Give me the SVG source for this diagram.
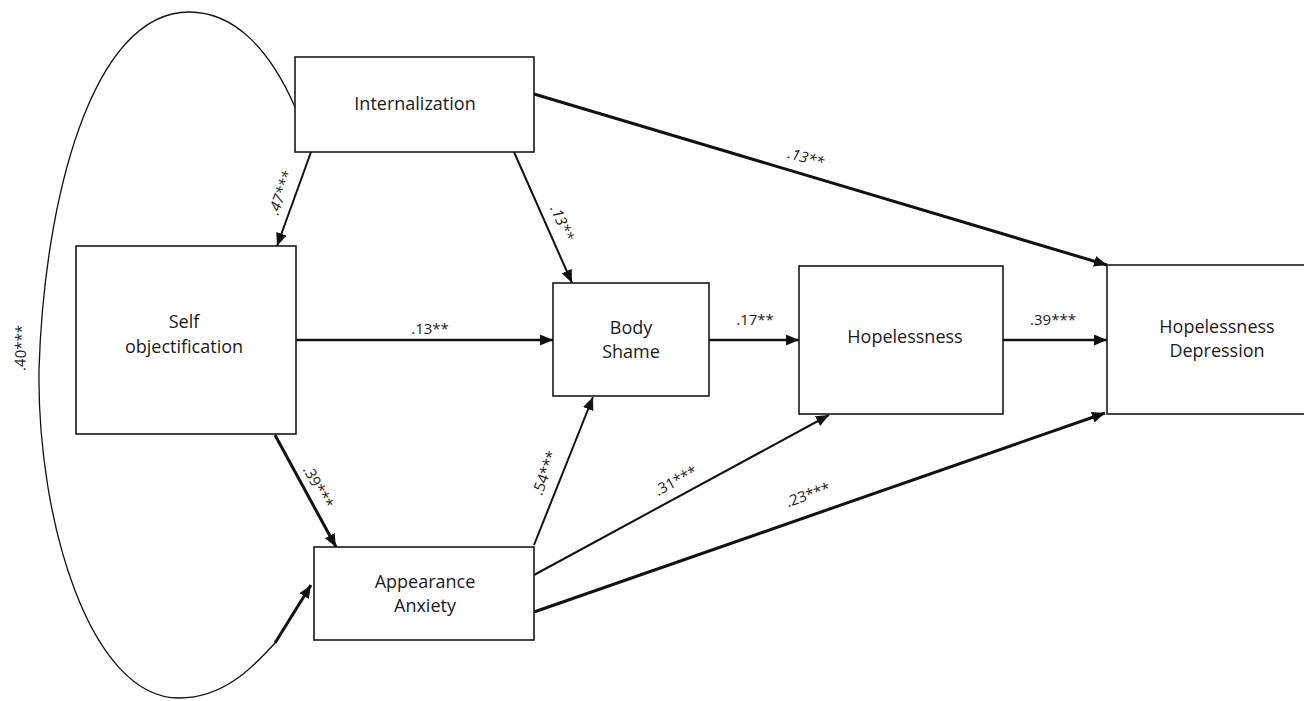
<svg xmlns="http://www.w3.org/2000/svg" width="1304" height="701" viewBox="0 0 1304 701">
<style>
.box{fill:#fff;stroke:#1a1a1a;stroke-width:1.6}
.t{font-family:"Open Sans","DejaVu Sans",sans-serif;font-size:18px;fill:#1a1a1a;text-anchor:middle}
.l{font-family:"Open Sans","DejaVu Sans",sans-serif;font-size:15px;fill:#1a1a1a;text-anchor:middle}
.c{fill:none;stroke:#111;marker-end:url(#ah)}
</style>
<defs>
<marker id="ah" markerUnits="userSpaceOnUse" markerWidth="14" markerHeight="12" refX="13" refY="5.5" orient="auto">
<path d="M0,0 L13,5.5 L0,11 z" fill="#111"/>
</marker>
</defs>
<rect width="1304" height="701" fill="#fff"/>
<g id="connectors">
<path d="M295,107 C270,50 235,12 189,12 C92,12 44,200 39,370 C37,520 90,698 179,698 C225,698 255,665 275,643" fill="none" stroke="#111" stroke-width="1.3"/>
<line class="c" x1="275" y1="643" x2="311" y2="585" stroke-width="3"/>
<line class="c" x1="311" y1="152" x2="277" y2="246" stroke-width="2"/>
<line class="c" x1="514" y1="152" x2="572" y2="283" stroke-width="2"/>
<line class="c" x1="534" y1="94" x2="1107" y2="265" stroke-width="3"/>
<line class="c" x1="296" y1="340" x2="553" y2="340" stroke-width="2.5"/>
<line class="c" x1="709" y1="340" x2="799" y2="340" stroke-width="2.5"/>
<line class="c" x1="1003" y1="340" x2="1107" y2="340" stroke-width="2.5"/>
<line class="c" x1="275" y1="435" x2="336" y2="547" stroke-width="3"/>
<line class="c" x1="534" y1="545" x2="593" y2="397" stroke-width="2"/>
<line class="c" x1="534" y1="575" x2="829" y2="415" stroke-width="2"/>
<line class="c" x1="534" y1="612" x2="1105" y2="413" stroke-width="3"/>
<text class="l" transform="translate(281,193) rotate(-70)" y="5" font-style="italic">.47***</text>
<text class="l" transform="translate(562,223) rotate(66)" y="5" font-style="italic">.13**</text>
<text class="l" transform="translate(806,158) rotate(16)" y="5" font-style="italic">.13**</text>
<text class="l" x="430" y="334">.13**</text>
<text class="l" x="755" y="325">.17**</text>
<text class="l" x="1053" y="325">.39***</text>
<text class="l" transform="translate(318,487) rotate(61)" y="5">.39***</text>
<text class="l" transform="translate(545,473) rotate(-70)" y="5">.54***</text>
<text class="l" transform="translate(676,481) rotate(-28)" y="5">.31***</text>
<text class="l" transform="translate(808,495) rotate(-19)" y="5">.23***</text>
<text class="l" transform="translate(21,348) rotate(-88)" y="5">.40***</text>
</g>
<g id="internalization">
<rect class="box" x="295" y="57" width="239" height="95"/>
<text class="t" x="415" y="110">Internalization</text>
</g>
<g id="self-objectification">
<rect class="box" x="76" y="246" width="220" height="188"/>
<text class="t" x="184" y="328">Self</text>
<text class="t" x="184" y="353">objectification</text>
</g>
<g id="body-shame">
<rect class="box" x="553" y="283" width="156" height="113"/>
<text class="t" x="631" y="334">Body</text>
<text class="t" x="631" y="358">Shame</text>
</g>
<g id="hopelessness">
<rect class="box" x="799" y="266" width="204" height="148"/>
<text class="t" x="905" y="343">Hopelessness</text>
</g>
<g id="hopelessness-depression">
<rect class="box" x="1107" y="265" width="200" height="149"/>
<text class="t" x="1217" y="333">Hopelessness</text>
<text class="t" x="1217" y="357">Depression</text>
</g>
<g id="appearance-anxiety">
<rect class="box" x="314" y="547" width="220" height="93"/>
<text class="t" x="425" y="588">Appearance</text>
<text class="t" x="425" y="612">Anxiety</text>
</g>
</svg>
